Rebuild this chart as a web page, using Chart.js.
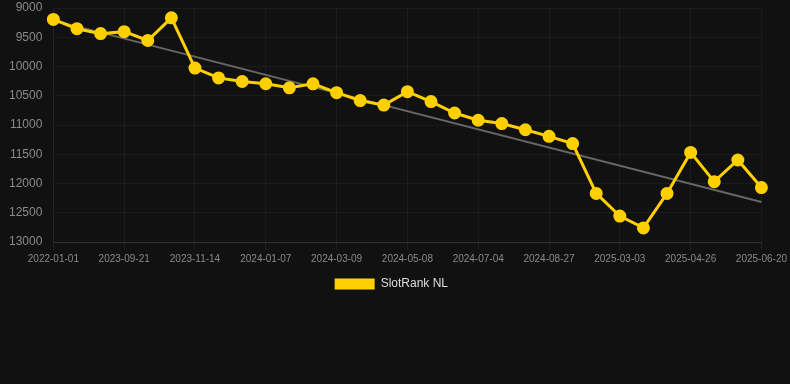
<!DOCTYPE html>
<html>
<head>
<meta charset="utf-8">
<script src="https://cdn.jsdelivr.net/npm/chart.js@4"></script>
<style>
html,body{margin:0;padding:0;background:#111111;}
#wrap{position:relative;width:790px;height:300px;}
</style>
</head>
<body>
<div id="wrap"><canvas id="c"></canvas></div>
<script>
const categories = [
  "2022-01-01","2023-08-xx","2023-09-xx","2023-09-21","2023-10-xx","2023-10-yy",
  "2023-11-14","2023-11-xx","2023-12-xx","2024-01-07","2024-01-xx","2024-02-xx",
  "2024-03-09","2024-03-xx","2024-04-xx","2024-05-08","2024-05-xx","2024-06-xx",
  "2024-07-04","2024-07-xx","2024-08-xx","2024-08-27","2024-09-xx","2025-02-xx",
  "2025-03-03","2025-03-xx","2025-04-xx","2025-04-26","2025-05-xx","2025-06-xx",
  "2025-06-20"
];
const tickLabels = ["2022-01-01","2023-09-21","2023-11-14","2024-01-07","2024-03-09","2024-05-08","2024-07-04","2024-08-27","2025-03-03","2025-04-26","2025-06-20"];
const rankValues = [
  9195, 9354, 9438, 9404, 9556, 9168,
  10027, 10195, 10256, 10295, 10364, 10296,
  10448, 10582, 10660, 10431, 10599, 10795,
  10919, 10975, 11081, 11194, 11317, 12170,
  12557, 12759, 12170, 11468, 11968, 11598,
  12069
];
const trendEnds = [9212, 12316];
const yMin = 9000, yMax = 13000, yStep = 500;
const seriesName = 'SlotRank NL';

const trendData = categories.map((_, i) => i === 0 ? trendEnds[0] : (i === categories.length - 1 ? trendEnds[1] : null));

new Chart(document.getElementById('c'), {
  type: 'line',
  data: {
    labels: categories,
    datasets: [
      {
        label: seriesName,
        data: rankValues,
        borderColor: '#FFD000',
        backgroundColor: '#FFD000',
        borderWidth: 3,
        pointRadius: 5,
        pointHoverRadius: 5,
        pointBackgroundColor: '#FFD000',
        pointBorderColor: '#FFD000',
        tension: 0,
        order: 1
      },
      {
        label: 'trend',
        data: trendData,
        borderColor: '#666666',
        borderWidth: 2,
        pointRadius: 0,
        spanGaps: true,
        order: 2
      }
    ]
  },
  options: {
    responsive: true,
    maintainAspectRatio: false,
    animation: false,
    layout: { padding: { left: 6, right: 0, top: 0, bottom: 0 } },
    plugins: {
      legend: {
        position: 'bottom',
        labels: {
          color: '#dddddd',
          font: { family: 'Liberation Sans, Arial, sans-serif', size: 12 },
          boxWidth: 40,
          boxHeight: 11,
          generateLabels: (chart) => {
            const ds = chart.data.datasets[0];
            return [{
              text: seriesName + '    ',
              fillStyle: ds.backgroundColor,
              strokeStyle: ds.borderColor,
              lineWidth: 0,
              hidden: false,
              datasetIndex: 0,
              fontColor: '#dddddd'
            }];
          }
        }
      },
      tooltip: { enabled: false }
    },
    scales: {
      x: {
        grid: { color: 'rgba(255,255,255,0.045)', tickColor: 'rgba(255,255,255,0.06)' },
        border: { color: 'rgba(255,255,255,0.1)' },
        ticks: {
          color: '#8a8a8a',
          font: { family: 'Liberation Sans, Arial, sans-serif', size: 10 },
          maxRotation: 0,
          autoSkip: false,
          callback: function(val, idx) {
            return idx % 3 === 0 ? tickLabels[idx / 3] : null;
          }
        }
      },
      y: {
        reverse: true,
        min: yMin,
        max: yMax,
        grid: { color: 'rgba(255,255,255,0.045)', tickColor: 'rgba(255,255,255,0.0)' },
        border: { color: 'rgba(255,255,255,0.045)' },
        ticks: {
          stepSize: yStep,
          color: '#8a8a8a',
          font: { family: 'Liberation Sans, Arial, sans-serif', size: 12, lineHeight: 0.5 },
          callback: (v) => String(v)
        }
      }
    }
  }
});
</script>
</body>
</html>
